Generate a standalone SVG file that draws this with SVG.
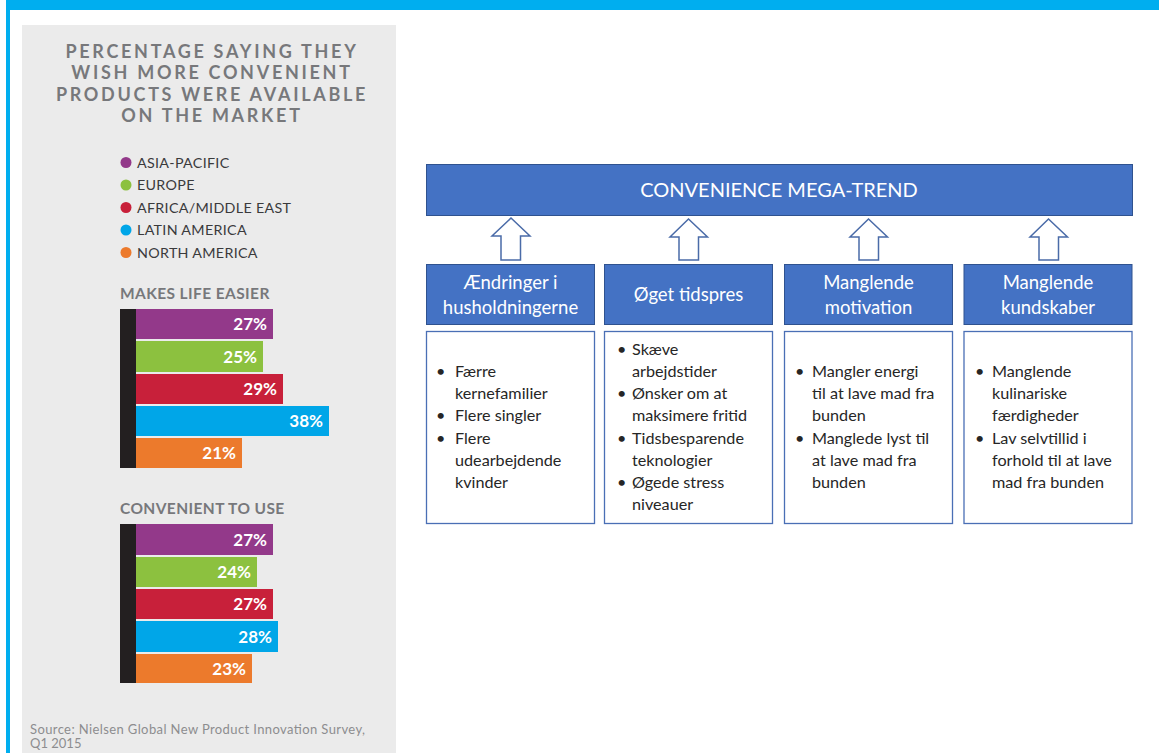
<svg xmlns="http://www.w3.org/2000/svg" width="1159" height="753" viewBox="0 0 1159 753">
<style>
.title{font-family:Lato,"Open Sans",sans-serif;font-weight:700;font-size:18px;letter-spacing:2.7px;fill:#77787b;text-anchor:middle}
.leg{font-family:Lato,"Open Sans",sans-serif;font-size:14.3px;letter-spacing:0.3px;fill:#3a3a3c}
.sec{font-family:Lato,"Open Sans",sans-serif;font-weight:700;font-size:15.5px;letter-spacing:0.4px;fill:#77787b}
.val{font-family:Lato,"Open Sans",sans-serif;font-weight:700;font-size:17px;fill:#ffffff;text-anchor:end}
.src{font-family:Lato,"Open Sans",sans-serif;font-size:13px;fill:#8d8d8f}
.head{fill:#4472c4;stroke:#2f528f;stroke-width:1}
.headtxt{font-family:Lato,"Open Sans",sans-serif;font-size:18.5px;fill:#ffffff;text-anchor:middle}
.body{fill:#ffffff;stroke:#4a6fb5;stroke-width:1.3}
.btxt{font-family:Lato,"Open Sans",sans-serif;font-size:16.2px;fill:#262626}
.arrow{fill:#ffffff;stroke:#4a6ba8;stroke-width:1.5;stroke-linejoin:miter}
</style>
<rect x="0" y="0" width="1159" height="753" fill="#ffffff"/>
<rect x="6" y="0" width="1153" height="10" fill="#00aeef"/>
<rect x="6" y="0" width="4" height="753" fill="#00aeef"/>

<g id="chart-panel">
<rect x="22" y="25" width="374" height="728" fill="#ebebeb"/>
<text class="title" x="212" y="58">PERCENTAGE SAYING THEY</text>
<text class="title" x="212" y="79">WISH MORE CONVENIENT</text>
<text class="title" x="212" y="101">PRODUCTS WERE AVAILABLE</text>
<text class="title" x="212" y="122">ON THE MARKET</text>
</g>

<g id="legend">
<circle cx="126" cy="162.5" r="5.5" fill="#93398a"/>
<text class="leg" x="137" y="167.5">ASIA-PACIFIC</text>
<circle cx="126" cy="185" r="5.5" fill="#8cc13f"/>
<text class="leg" x="137" y="190">EUROPE</text>
<circle cx="126" cy="207.5" r="5.5" fill="#c8203a"/>
<text class="leg" x="137" y="212.5">AFRICA/MIDDLE EAST</text>
<circle cx="126" cy="230" r="5.5" fill="#00a6e8"/>
<text class="leg" x="137" y="235">LATIN AMERICA</text>
<circle cx="126" cy="252.5" r="5.5" fill="#ec7a2c"/>
<text class="leg" x="137" y="257.5">NORTH AMERICA</text>
</g>

<g id="makes-life-easier">
<text class="sec" x="120" y="299">MAKES LIFE EASIER</text>
<rect x="120" y="309" width="16" height="159" fill="#231f20"/>
<rect x="136" y="309" width="137" height="30" fill="#93398a"/>
<text class="val" x="267" y="330">27%</text>
<rect x="136" y="341" width="127" height="31" fill="#8cc13f"/>
<text class="val" x="257" y="362.5">25%</text>
<rect x="136" y="374" width="147" height="30" fill="#c8203a"/>
<text class="val" x="277" y="395">29%</text>
<rect x="136" y="406" width="193" height="30" fill="#00a6e8"/>
<text class="val" x="323" y="427">38%</text>
<rect x="136" y="438" width="106" height="30" fill="#ec7a2c"/>
<text class="val" x="236" y="459">21%</text>
</g>

<g id="convenient-to-use">
<text class="sec" x="120" y="514">CONVENIENT TO USE</text>
<rect x="120" y="524" width="16" height="159" fill="#231f20"/>
<rect x="136" y="524" width="137" height="31" fill="#93398a"/>
<text class="val" x="267" y="545.5">27%</text>
<rect x="136" y="557" width="121" height="30" fill="#8cc13f"/>
<text class="val" x="251" y="578">24%</text>
<rect x="136" y="589" width="137" height="30" fill="#c8203a"/>
<text class="val" x="267" y="610">27%</text>
<rect x="136" y="621" width="142" height="31" fill="#00a6e8"/>
<text class="val" x="272" y="642.5">28%</text>
<rect x="136" y="654" width="116" height="29" fill="#ec7a2c"/>
<text class="val" x="246" y="674.5">23%</text>
</g>

<g id="source">
<text class="src" x="30" y="734" textLength="335" lengthAdjust="spacing">Source: Nielsen Global New Product Innovation Survey,</text>
<text class="src" x="30" y="748">Q1 2015</text>
</g>

<g id="mega-trend">
<rect class="head" x="426.5" y="164.5" width="706" height="51"/>
<text class="headtxt" x="779" y="197" style="font-size:20px">CONVENIENCE MEGA-TREND</text>
</g>

<g id="connectors">
<path class="arrow" d="M511,218 L530,236 L520.5,236 L520.5,260 L501,260 L501,236 L492,236 Z"/>
<path class="arrow" d="M688.5,219 L707.5,237 L698.5,237 L698.5,260 L679,260 L679,237 L670,237 Z"/>
<path class="arrow" d="M868.5,219 L887.5,237 L878.5,237 L878.5,260 L859,260 L859,237 L850,237 Z"/>
<path class="arrow" d="M1048.5,219 L1067.5,237 L1058.5,237 L1058.5,260 L1039,260 L1039,237 L1030,237 Z"/>
</g>

<g id="cat-1">
<rect class="head" x="426.5" y="264.5" width="168" height="60"/>
<text class="headtxt" x="510.5" y="289">Ændringer i</text>
<text class="headtxt" x="510.5" y="313.5">husholdningerne</text>
<rect class="body" x="426.5" y="331.5" width="168" height="192"/>
<text class="btxt"><tspan x="436" y="377">•</tspan><tspan x="455" y="377">Færre</tspan><tspan x="455" y="399.2">kernefamilier</tspan><tspan x="436" y="421.4">•</tspan><tspan x="455" y="421.4">Flere singler</tspan><tspan x="436" y="443.6">•</tspan><tspan x="455" y="443.6">Flere</tspan><tspan x="455" y="465.8">udearbejdende</tspan><tspan x="455" y="488">kvinder</tspan></text>
</g>

<g id="cat-2">
<rect class="head" x="604.5" y="264.5" width="168" height="60"/>
<text class="headtxt" x="688.5" y="301">Øget tidspres</text>
<rect class="body" x="604.5" y="331.5" width="168" height="192"/>
<text class="btxt"><tspan x="617" y="354.8">•</tspan><tspan x="632" y="354.8">Skæve</tspan><tspan x="632" y="377">arbejdstider</tspan><tspan x="617" y="399.2">•</tspan><tspan x="632" y="399.2">Ønsker om at</tspan><tspan x="632" y="421.4">maksimere fritid</tspan><tspan x="617" y="443.6">•</tspan><tspan x="632" y="443.6">Tidsbesparende</tspan><tspan x="632" y="465.8">teknologier</tspan><tspan x="617" y="488">•</tspan><tspan x="632" y="488">Øgede stress</tspan><tspan x="632" y="510.2">niveauer</tspan></text>
</g>

<g id="cat-3">
<rect class="head" x="784.5" y="264.5" width="168" height="60"/>
<text class="headtxt" x="868.5" y="289">Manglende</text>
<text class="headtxt" x="868.5" y="313.5">motivation</text>
<rect class="body" x="784.5" y="331.5" width="168" height="192"/>
<text class="btxt"><tspan x="795" y="377">•</tspan><tspan x="812" y="377">Mangler energi</tspan><tspan x="812" y="399.2">til at lave mad fra</tspan><tspan x="812" y="421.4">bunden</tspan><tspan x="795" y="443.6">•</tspan><tspan x="812" y="443.6">Manglede lyst til</tspan><tspan x="812" y="465.8">at lave mad fra</tspan><tspan x="812" y="488">bunden</tspan></text>
</g>

<g id="cat-4">
<rect class="head" x="964" y="264.5" width="168" height="60"/>
<text class="headtxt" x="1048" y="289">Manglende</text>
<text class="headtxt" x="1048" y="313.5">kundskaber</text>
<rect class="body" x="964" y="331.5" width="168" height="192"/>
<text class="btxt"><tspan x="975" y="377">•</tspan><tspan x="992" y="377">Manglende</tspan><tspan x="992" y="399.2">kulinariske</tspan><tspan x="992" y="421.4">færdigheder</tspan><tspan x="975" y="443.6">•</tspan><tspan x="992" y="443.6">Lav selvtillid i</tspan><tspan x="992" y="465.8">forhold til at lave</tspan><tspan x="992" y="488">mad fra bunden</tspan></text>
</g>
</svg>
